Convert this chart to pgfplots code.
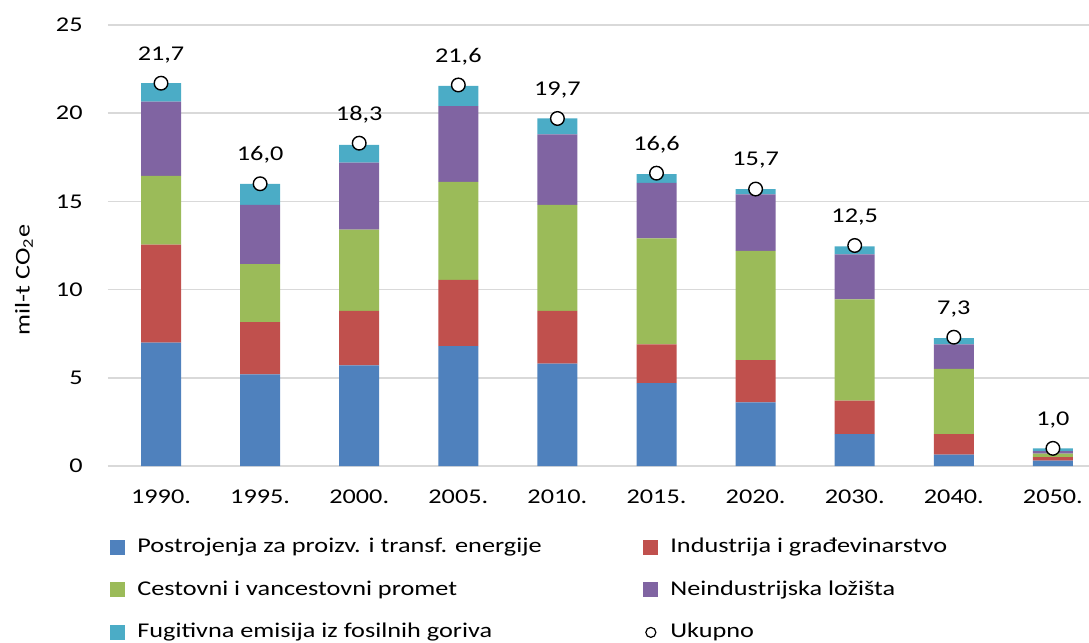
\documentclass[border=0pt]{standalone}
\usepackage{fontspec}
\setmainfont{Carlito}[FakeStretch=1.25]
\usepackage{pgfplots}
\usepackage{pgfplotstable}
\pgfplotsset{compat=1.18}
\definecolor{cBlue}{HTML}{4F81BD}
\definecolor{cRed}{HTML}{C0504D}
\definecolor{cGreen}{HTML}{9BBB59}
\definecolor{cPurple}{HTML}{8064A2}
\definecolor{cCyan}{HTML}{4BACC6}
\definecolor{cGrid}{HTML}{D9D9D9}

\pgfplotstableread{
x blue red green purple cyan total
0 7.0 5.55 3.9 4.2 1.05 21.7
1 5.2 2.95 3.3 3.35 1.2 16.0
2 5.7 3.1 4.6 3.8 1.0 18.3
3 6.8 3.75 5.55 4.3 1.15 21.6
4 5.8 3.0 6.0 4.0 0.9 19.7
5 4.7 2.2 6.0 3.15 0.5 16.6
6 3.6 2.4 6.2 3.2 0.3 15.7
7 1.8 1.9 5.75 2.55 0.45 12.5
8 0.65 1.15 3.7 1.4 0.35 7.3
9 0.3 0.2 0.2 0.15 0.15 1.0
}\datatable

\pgfplotsset{
  /pgf/number format/assume math mode=true,
  base/.style={
    at={(0,0)}, anchor=south west, scale only axis,
    width=490.5pt, height=220.5pt,
    xmin=-0.535, xmax=9.364, ymin=0, ymax=25,
  },
}

\begin{document}
\begin{tikzpicture}[font=\fontsize{10.5}{12.6}\selectfont]
\path[use as bounding box] (-54pt,-88.5pt) rectangle (490.5pt,233pt);
\begin{axis}[
  base,
  ybar stacked, bar width=20pt,
  ytick={0,5,...,25},
  xtick={0,...,9},
  xticklabels={1990.,1995.,2000.,2005.,2010.,2015.,2020.,2030.,2040.,2050.},
  axis line style={draw=none},
  major tick length=0pt,
  ymajorgrids, grid style={color=cGrid, line width=0.75pt},
  xticklabel style={anchor=center, yshift=-15.5pt},
  yticklabel style={anchor=east, inner sep=0pt, xshift=-12.5pt},
  ylabel={mil-t CO\textsubscript{2}e},
  y label style={at={(axis description cs:-0.0856,0.422)}, anchor=center},
  legend columns=2,
  legend cell align=left,
  legend style={at={(axis description cs:0.002,-0.1617)}, anchor=north west,
    draw=none, fill=none, inner sep=0pt, row sep=11.55pt,
    nodes={inner sep=0pt, text height=7.5pt, text depth=2.2pt},
    /tikz/every odd column/.append style={column sep=6pt}},
]
\addplot[fill=cBlue, draw=none, legend image code/.code={\fill[cBlue] (0pt,-3.75pt) rectangle (7.5pt,3.75pt);}] table[x=x, y=blue] {\datatable};
\addlegendentry{\makebox[253pt][l]{Postrojenja za proizv. i transf. energije}}
\addplot[fill=cRed, draw=none, legend image code/.code={\fill[cRed] (0pt,-3.75pt) rectangle (7.5pt,3.75pt);}] table[x=x, y=red] {\datatable};
\addlegendentry{Industrija i građevinarstvo}
\addplot[fill=cGreen, draw=none, legend image code/.code={\fill[cGreen] (0pt,-3.75pt) rectangle (7.5pt,3.75pt);}] table[x=x, y=green] {\datatable};
\addlegendentry{\makebox[253pt][l]{Cestovni i vancestovni promet}}
\addplot[fill=cPurple, draw=none, legend image code/.code={\fill[cPurple] (0pt,-3.75pt) rectangle (7.5pt,3.75pt);}] table[x=x, y=purple] {\datatable};
\addlegendentry{Neindustrijska ložišta}
\addplot[fill=cCyan, draw=none, legend image code/.code={\fill[cCyan] (0pt,-3.75pt) rectangle (7.5pt,3.75pt);}] table[x=x, y=cyan] {\datatable};
\addlegendentry{\makebox[253pt][l]{Fugitivna emisija iz fosilnih goriva}}
\addlegendimage{legend image code/.code={\draw[black, fill=white, line width=0.6pt] (3.75pt,0pt) circle (2.5pt);}}
\addlegendentry{Ukupno}
\end{axis}
\begin{axis}[
  base, hide axis, clip=false,
]
\addplot[only marks, mark=*, mark size=3.4pt, mark options={fill=white, draw=black, line width=0.7pt},
  point meta=explicit,
  nodes near coords={\pgfmathprintnumber[fixed,fixed zerofill,precision=1,use comma]{\pgfplotspointmeta}},
  nodes near coords style={anchor=center, yshift=14.3pt, font=\fontsize{10.5}{12.6}\selectfont}]
  table[x=x, y=total, meta=total] {\datatable};
\end{axis}
\end{tikzpicture}
\end{document}
